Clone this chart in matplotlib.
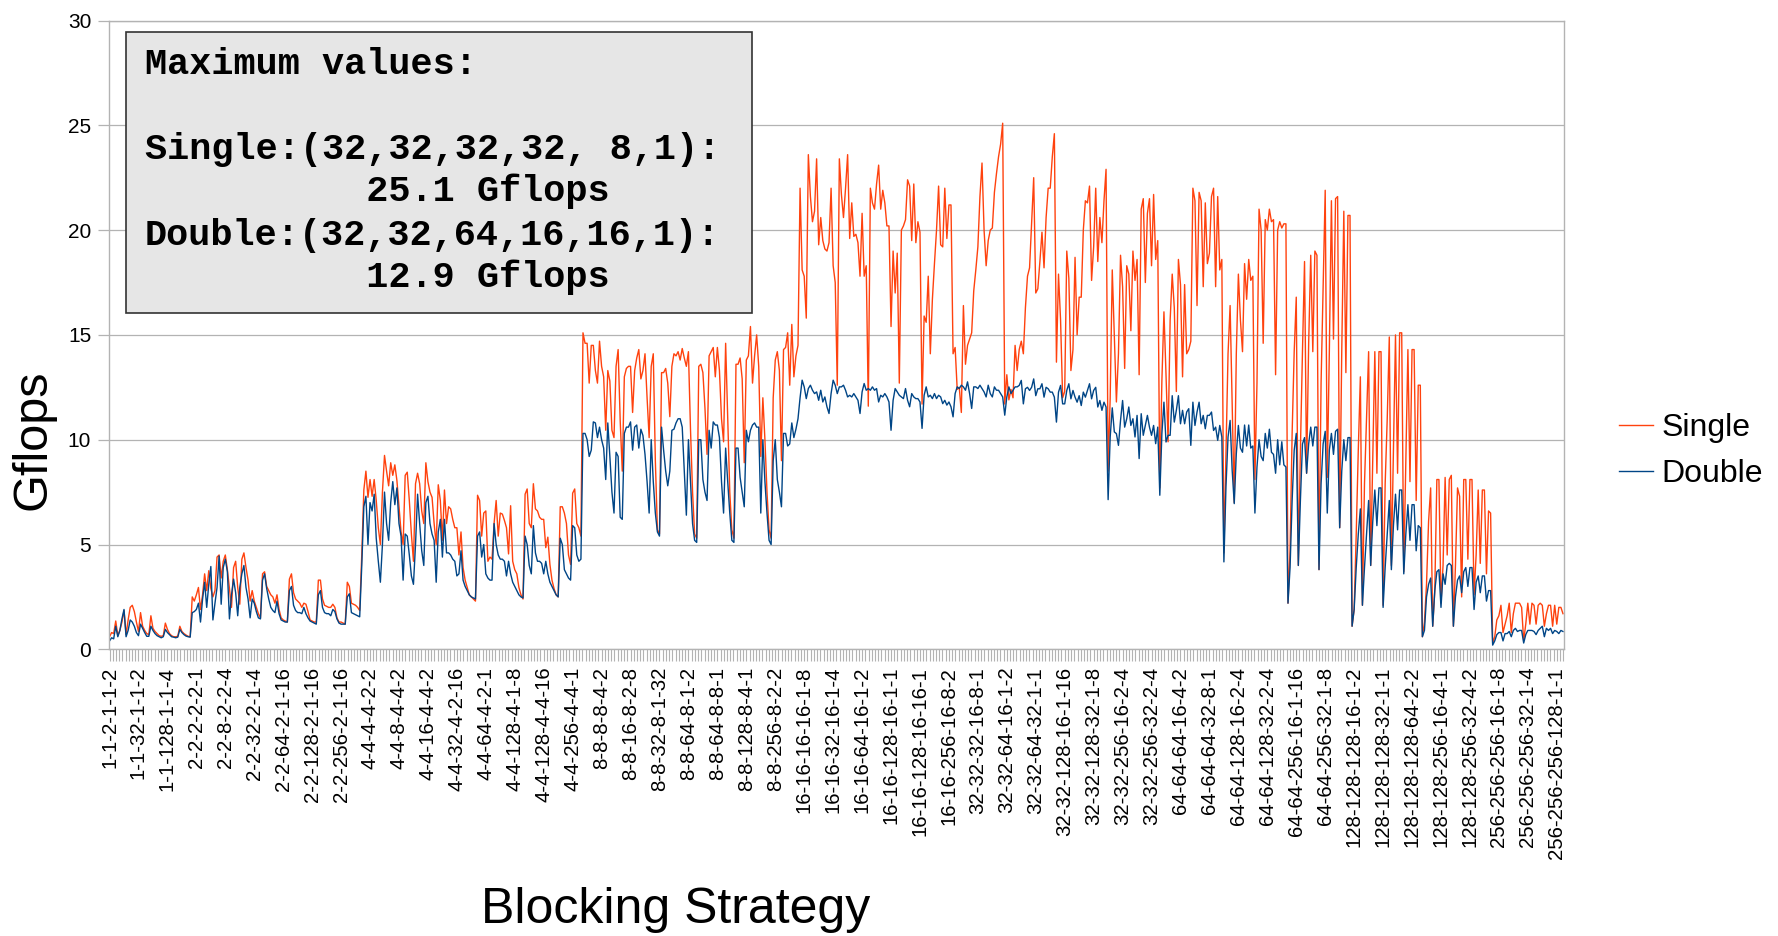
import numpy as np
import matplotlib
matplotlib.use("Agg")
import matplotlib.pyplot as plt
from matplotlib.patches import Rectangle

plt.rcParams['font.family'] = 'Liberation Sans'

# Gflops per blocking strategy (704 configurations)
single = [
    0.6, 0.8, 0.75, 1.35, 0.65, 0.9, 1.3, 1.85, 0.7, 1.4,
    2.0, 2.1, 1.8, 1.3, 0.85, 1.75, 1.1, 0.9, 0.75, 0.7,
    1.6, 1.0, 0.85, 0.75, 0.65, 0.62, 0.65, 1.25, 0.95, 0.75,
    0.65, 0.6, 0.6, 0.62, 1.1, 0.85, 0.75, 0.68, 0.62, 0.6,
    2.5, 2.3, 2.6, 2.95, 1.9, 2.6, 3.6, 2.8, 3.75, 2.9,
    2.5, 2.8, 4.4, 4.5, 3.4, 4.2, 4.5, 3.8, 2.9, 2.0,
    3.9, 4.2, 2.95, 2.15, 4.3, 4.6, 3.9, 3.3, 2.3, 2.8,
    2.3, 2.0, 1.7, 1.5, 3.6, 3.7, 3.0, 2.8, 2.6, 2.5,
    2.2, 2.6, 1.9, 1.5, 1.4, 1.35, 1.3, 3.35, 3.6, 2.7,
    2.4, 2.3, 2.2, 2.0, 2.2, 2.15, 1.8, 1.4, 1.35, 1.3,
    1.3, 3.3, 3.3, 2.4, 2.1, 2.05, 2.0, 2.0, 2.15, 2.0,
    1.5, 1.3, 1.3, 1.25, 1.2, 3.2, 3.0, 2.2, 2.15, 2.1,
    2.0, 1.85, 4.5, 7.6, 8.5, 7.25, 8.1, 7.3, 8.1, 7.1,
    5.8, 5.0, 7.5, 9.25, 8.5, 7.8, 8.9, 8.3, 8.8, 8.05,
    6.8, 5.6, 5.0, 8.3, 8.45, 7.1, 5.5, 4.2, 7.9, 8.4,
    7.9, 6.6, 6.0, 8.9, 8.0, 7.5, 7.25, 6.0, 5.0, 7.85,
    7.1, 5.2, 7.6, 6.0, 6.8, 6.7, 6.2, 5.8, 5.8, 4.5,
    5.6, 3.9, 3.3, 2.95, 2.6, 2.5, 2.4, 2.3, 7.35, 7.1,
    5.4, 6.5, 6.6, 4.2, 4.4, 4.3, 6.0, 7.1, 5.4, 6.5,
    6.45, 6.15, 5.8, 4.55, 6.85, 4.2, 3.8, 3.6, 2.95, 2.6,
    2.4, 7.4, 7.65, 6.0, 5.8, 7.9, 6.7, 6.6, 6.3, 6.2,
    6.2, 4.85, 5.35, 4.05, 3.3, 2.9, 2.6, 2.5, 6.8, 6.8,
    6.5, 6.0, 4.5, 4.05, 7.45, 7.65, 6.0, 5.8, 5.4, 15.1,
    14.6, 14.6, 12.7, 14.5, 14.5, 13.3, 12.7, 14.7, 13.5, 13.0,
    10.45, 13.3, 12.8, 10.45, 10.1, 13.5, 14.3, 10.9, 8.5, 13.0,
    13.4, 13.5, 13.5, 11.3, 13.3, 13.9, 14.3, 12.9, 13.3, 14.1,
    12.0, 10.1, 13.5, 14.1, 9.0, 5.7, 5.5, 13.2, 13.2, 13.4,
    12.7, 11.1, 13.5, 14.1, 14.0, 14.2, 13.8, 14.35, 13.9, 13.5,
    14.2, 10.5, 7.5, 5.5, 5.3, 13.5, 13.6, 13.2, 11.5, 9.3,
    14.0, 14.2, 14.4, 13.0, 14.4, 13.3, 11.0, 9.9, 14.6, 11.0,
    7.5, 5.7, 5.3, 13.6, 13.6, 13.9, 12.9, 8.9, 13.8, 14.0,
    15.4, 12.7, 14.0, 15.0, 13.5, 9.2, 12.0, 10.0, 7.5, 5.7,
    5.3, 12.0, 13.8, 14.2, 13.3, 9.0, 14.3, 14.4, 15.1, 12.6,
    15.5, 13.0, 14.0, 14.5, 22.0, 18.1, 17.8, 15.8, 23.6, 21.6,
    20.4, 20.9, 23.4, 19.3, 20.6, 19.5, 19.1, 19.0, 19.4, 22.0,
    18.3, 17.5, 12.6, 23.4, 21.7, 20.6, 22.0, 23.6, 19.6, 21.3,
    19.7, 19.8, 19.4, 17.8, 20.8, 17.8, 18.3, 11.6, 22.0, 21.3,
    21.0, 22.2, 23.1, 21.0, 21.9, 21.3, 20.2, 20.2, 15.4, 19.0,
    17.0, 18.9, 12.7, 20.0, 20.2, 20.5, 22.4, 22.1, 19.5, 22.2,
    19.4, 20.4, 19.9, 11.7, 15.9, 15.6, 17.8, 14.1, 16.7, 18.4,
    20.0, 22.1, 19.3, 19.2, 22.0, 19.6, 21.2, 21.2, 14.1, 14.4,
    12.4, 12.5, 11.3, 16.4, 13.6, 14.5, 14.8, 15.1, 17.1, 18.1,
    19.2, 21.6, 23.2, 20.0, 18.3, 19.5, 20.0, 20.1, 21.8, 22.7,
    23.5, 24.1, 25.1, 11.7, 13.1, 11.9, 12.4, 12.0, 14.5, 13.3,
    14.3, 14.7, 14.1, 16.3, 17.8, 18.2, 20.3, 22.5, 17.0, 17.2,
    18.5, 19.9, 18.2, 20.6, 22.0, 22.0, 23.5, 24.6, 13.7, 17.9,
    15.7, 12.0, 12.3, 19.0, 17.7, 13.3, 14.3, 18.7, 15.0, 16.8,
    16.8, 20.0, 21.4, 21.3, 22.1, 17.6, 19.2, 22.0, 18.5, 20.6,
    19.4, 21.4, 22.9, 8.5, 12.0, 18.1, 15.0, 11.8, 14.1, 18.8,
    17.3, 13.4, 18.3, 17.9, 15.2, 19.0, 17.6, 18.6, 13.1, 21.0,
    21.5, 17.5, 20.8, 21.5, 18.3, 21.7, 18.6, 19.5, 7.7, 12.8,
    16.1, 13.1, 9.9, 15.7, 17.9, 16.3, 12.3, 18.6, 17.4, 13.0,
    17.4, 14.1, 14.3, 14.7, 22.0, 21.4, 16.4, 21.8, 21.4, 17.3,
    21.3, 18.4, 18.9, 21.6, 22.0, 17.3, 21.6, 18.1, 18.6, 4.6,
    9.3, 14.1, 16.4, 11.7, 7.0, 14.1, 17.9, 15.7, 14.2, 18.4,
    16.7, 18.6, 17.6, 17.8, 8.1, 12.7, 21.0, 20.0, 14.6, 20.5,
    20.0, 21.0, 20.4, 20.5, 13.1, 20.0, 20.4, 20.1, 20.3, 20.3,
    2.2, 4.7, 10.3, 14.2, 16.8, 4.0, 9.5, 14.2, 18.5, 8.4,
    14.6, 18.8, 14.2, 19.0, 18.8, 3.8, 12.7, 17.4, 21.9, 8.2,
    14.2, 21.4, 14.8, 21.5, 21.6, 5.8, 14.2, 20.9, 13.2, 20.7,
    20.7, 1.1, 1.9, 5.5, 9.5, 13.0, 2.1, 7.9, 11.1, 14.2,
    4.0, 9.0, 14.2, 8.4, 14.2, 14.2, 2.1, 7.9, 11.0, 14.9,
    4.0, 9.5, 15.0, 8.4, 15.1, 15.1, 3.7, 9.0, 14.3, 8.0,
    14.3, 14.3, 7.1, 12.6, 12.6, 0.6, 1.3, 3.1, 6.1, 7.7,
    1.1, 2.8, 8.1, 8.1, 2.2, 4.0, 8.2, 4.5, 8.1, 8.3,
    1.1, 4.0, 7.7, 7.3, 2.5, 8.1, 8.1, 4.3, 8.1, 8.1,
    2.6, 4.5, 7.6, 4.1, 7.6, 7.6, 3.6, 6.6, 6.5, 0.3,
    0.6, 1.4, 1.6, 2.1, 0.8, 1.2, 1.6, 2.2, 0.8, 1.7,
    2.2, 2.2, 2.2, 2.0, 0.4, 1.2, 2.2, 1.2, 2.2, 2.1,
    1.2, 2.1, 2.2, 2.1, 1.1, 1.7, 2.1, 2.1, 1.1, 2.1,
    1.2, 2.0, 2.0, 1.7,
]

double = [
    0.4, 0.55, 0.5, 1.1, 0.6, 0.9, 1.45, 1.9, 0.6, 0.9,
    1.4, 1.3, 1.1, 0.8, 0.65, 1.2, 1.0, 0.8, 0.62, 0.62,
    1.1, 0.9, 0.75, 0.65, 0.6, 0.55, 0.6, 0.95, 0.8, 0.7,
    0.6, 0.58, 0.55, 0.58, 0.95, 0.8, 0.7, 0.63, 0.6, 0.58,
    1.75, 1.8, 1.9, 2.2, 1.3, 2.4, 3.2, 2.0, 3.1, 3.95,
    1.4, 2.2, 2.95, 4.45, 2.15, 3.9, 4.3, 3.7, 1.45, 2.6,
    3.35, 2.7, 1.6, 2.95, 3.6, 4.0, 2.95, 2.4, 1.5, 2.4,
    2.2, 1.8, 1.5, 1.45, 3.3, 3.6, 2.9, 2.4, 2.0, 1.85,
    1.75, 2.3, 1.7, 1.4, 1.35, 1.3, 1.3, 2.8, 3.0, 2.1,
    1.85, 1.75, 1.75, 1.7, 2.0, 1.7, 1.5, 1.35, 1.3, 1.25,
    1.2, 2.6, 2.8, 2.0, 1.75, 1.7, 1.7, 1.6, 1.9, 1.8,
    1.45, 1.25, 1.2, 1.2, 1.2, 2.5, 2.65, 1.75, 1.7, 1.65,
    1.6, 1.55, 4.0, 6.8, 7.3, 5.0, 7.0, 6.6, 7.4, 5.3,
    4.2, 3.2, 5.0, 7.5, 6.0, 5.2, 7.0, 8.0, 6.9, 7.7,
    6.0, 5.4, 3.3, 5.5, 5.4, 4.5, 3.5, 3.1, 5.0, 7.4,
    6.0, 4.7, 4.0, 7.0, 7.3, 6.0, 5.5, 5.2, 3.2, 5.6,
    6.2, 4.4, 6.2, 4.6, 4.6, 4.5, 4.3, 4.2, 3.5, 3.6,
    4.7, 3.3, 3.0, 2.8, 2.6, 2.5, 2.45, 2.4, 5.4, 5.6,
    4.4, 5.0, 3.6, 3.4, 3.3, 3.3, 6.0, 5.0, 4.5, 4.3,
    4.3, 4.2, 3.5, 4.2, 3.6, 3.2, 3.0, 2.8, 2.6, 2.5,
    2.45, 5.4, 5.0, 4.0, 3.6, 5.9, 4.6, 4.2, 4.2, 4.1,
    3.6, 4.2, 3.6, 3.2, 3.0, 2.8, 2.6, 2.5, 5.3, 5.0,
    3.8, 3.6, 3.4, 3.3, 5.9, 5.8, 4.5, 4.2, 4.3, 10.3,
    10.3, 10.0, 9.2, 9.5, 10.85, 10.8, 10.1, 10.6, 10.0, 9.6,
    8.1, 10.8, 9.2, 7.5, 6.5, 9.4, 9.2, 6.3, 6.2, 10.3,
    10.6, 10.6, 10.85, 9.5, 10.6, 10.7, 9.6, 10.5, 10.2, 9.3,
    8.0, 6.5, 10.0, 8.0, 6.5, 5.6, 5.4, 10.6, 9.5, 8.5,
    7.8, 8.5, 10.45, 10.5, 10.8, 11.0, 11.0, 10.6, 8.5, 6.4,
    10.0, 8.0, 6.0, 5.2, 5.1, 10.0, 10.0, 8.1, 7.5, 7.1,
    10.45, 9.6, 10.85, 10.7, 10.7, 10.1, 8.0, 6.5, 9.6, 8.0,
    6.5, 5.2, 5.1, 9.6, 9.6, 8.2, 7.5, 6.8, 10.45, 9.9,
    10.45, 10.7, 10.8, 10.6, 10.6, 6.5, 10.0, 8.0, 6.5, 5.2,
    5.0, 9.0, 10.0, 8.1, 7.5, 6.8, 10.3, 10.3, 9.7, 9.8,
    10.8, 10.1, 10.5, 11.0, 12.0, 12.84, 12.52, 11.96, 12.44, 12.6,
    12.36, 12.2, 12.28, 11.88, 12.36, 11.8, 12.04, 11.57, 11.25, 12.2,
    12.84, 12.6, 12.2, 12.52, 12.52, 12.6, 12.36, 12.04, 12.12, 12.04,
    12.2, 12.04, 11.88, 11.25, 12.28, 12.68, 12.36, 12.44, 12.36, 12.52,
    12.36, 12.44, 11.8, 12.12, 12.04, 12.2, 12.04, 11.8, 10.45, 11.88,
    12.44, 12.28, 12.12, 12.04, 11.96, 12.44, 11.88, 11.57, 12.2, 12.04,
    11.96, 11.96, 11.8, 10.54, 12.12, 12.52, 12.04, 12.12, 11.96, 12.2,
    11.96, 12.12, 12.04, 11.72, 11.88, 11.65, 11.8, 11.57, 11.09, 12.2,
    12.52, 12.44, 12.6, 12.52, 12.36, 12.76, 12.2, 11.49, 12.52, 12.52,
    12.44, 12.6, 12.44, 12.28, 12.04, 12.6, 12.2, 12.04, 12.52, 12.36,
    12.36, 12.2, 12.04, 11.17, 12.04, 12.52, 12.2, 12.36, 12.52, 12.52,
    12.59, 12.83, 11.71, 12.43, 12.5, 12.35, 12.5, 12.9, 12.1, 12.43,
    12.43, 12.67, 12.03, 12.5, 12.43, 12.27, 12.27, 12.03, 10.84, 12.27,
    12.59, 11.71, 11.71, 12.35, 12.67, 11.95, 12.35, 12.03, 11.79, 12.1,
    11.63, 12.27, 12.03, 12.35, 12.67, 11.95, 12.35, 12.5, 11.56, 11.87,
    11.4, 11.79, 11.56, 7.14, 10.13, 11.52, 10.37, 10.29, 9.73, 10.92,
    11.87, 10.6, 11.0, 11.56, 10.68, 11.0, 10.13, 11.16, 9.1, 11.24,
    10.21, 10.68, 11.16, 10.6, 10.21, 10.68, 9.81, 10.6, 7.35, 10.29,
    11.79, 9.89, 10.21, 10.21, 12.1, 10.84, 11.4, 12.1, 10.76, 11.4,
    10.76, 11.32, 11.48, 9.73, 11.79, 10.68, 11.32, 11.79, 10.76, 11.16,
    10.52, 11.16, 11.16, 11.32, 10.44, 10.6, 9.97, 10.68, 10.13, 4.17,
    7.75, 10.13, 10.92, 8.54, 6.95, 9.33, 10.68, 9.6, 9.4, 10.7,
    9.7, 10.7, 9.6, 9.7, 6.5, 8.7, 10.0, 9.2, 9.0, 10.3,
    9.6, 10.5, 9.4, 9.3, 8.4, 10.0, 8.8, 9.9, 8.8, 8.7,
    2.2, 3.9, 7.1, 9.5, 10.3, 4.0, 7.1, 9.8, 10.1, 8.4,
    9.8, 10.6, 9.7, 10.6, 10.6, 3.8, 7.9, 9.8, 10.4, 6.5,
    9.5, 10.3, 9.3, 10.4, 10.5, 5.8, 8.5, 10.0, 9.0, 10.1,
    10.1, 1.1, 1.9, 3.9, 5.5, 6.7, 2.1, 3.9, 5.5, 7.1,
    4.0, 6.1, 7.6, 5.9, 7.7, 7.7, 2.0, 3.9, 5.5, 7.1,
    3.8, 5.9, 7.4, 5.7, 7.6, 7.6, 3.6, 5.5, 6.9, 5.2,
    6.9, 6.9, 4.7, 5.9, 5.8, 0.6, 0.9, 2.5, 3.1, 3.4,
    1.1, 2.8, 3.7, 3.8, 2.0, 3.6, 3.1, 4.0, 4.1, 4.0,
    1.1, 2.5, 3.3, 3.5, 2.7, 3.7, 3.9, 3.0, 3.9, 3.9,
    1.9, 3.2, 3.5, 2.7, 3.5, 3.5, 2.3, 2.8, 2.8, 0.2,
    0.4, 0.7, 0.8, 0.8, 0.4, 0.75, 0.75, 0.85, 0.6, 0.9,
    1.0, 0.85, 0.9, 0.9, 0.3, 0.7, 0.9, 0.9, 0.9, 0.85,
    0.7, 0.9, 1.0, 1.1, 0.6, 1.0, 0.9, 1.0, 0.75, 0.9,
    0.85, 0.75, 0.9, 0.85,
]

# every 14th strategy gets a label on the axis
tick_labels = [
    "1-1-2-1-1-2", "1-1-32-1-1-2", "1-1-128-1-1-4", "2-2-2-2-2-1",
    "2-2-8-2-2-4", "2-2-32-2-1-4", "2-2-64-2-1-16", "2-2-128-2-1-16",
    "2-2-256-2-1-16", "4-4-4-4-2-2", "4-4-8-4-4-2", "4-4-16-4-4-2",
    "4-4-32-4-2-16", "4-4-64-4-2-1", "4-4-128-4-1-8", "4-4-128-4-4-16",
    "4-4-256-4-4-1", "8-8-8-8-4-2", "8-8-16-8-2-8", "8-8-32-8-1-32",
    "8-8-64-8-1-2", "8-8-64-8-8-1", "8-8-128-8-4-1", "8-8-256-8-2-2",
    "16-16-16-16-1-8", "16-16-32-16-1-4", "16-16-64-16-1-2", "16-16-128-16-1-1",
    "16-16-128-16-16-1", "16-16-256-16-8-2", "32-32-32-16-8-1", "32-32-64-16-1-2",
    "32-32-64-32-1-1", "32-32-128-16-1-16", "32-32-128-32-1-8", "32-32-256-16-2-4",
    "32-32-256-32-2-4", "64-64-64-16-4-2", "64-64-64-32-8-1", "64-64-128-16-2-4",
    "64-64-128-32-2-4", "64-64-256-16-1-16", "64-64-256-32-1-8", "128-128-128-16-1-2",
    "128-128-128-32-1-1", "128-128-128-64-2-2", "128-128-256-16-4-1", "128-128-256-32-4-2",
    "256-256-256-16-1-8", "256-256-256-32-1-4", "256-256-256-128-1-1",
]
label_step = 14

box_lines = [
    "Maximum values:",
    "",
    "Single:(32,32,32,32, 8,1):",
    "          25.1 Gflops",
    "Double:(32,32,64,16,16,1):",
    "          12.9 Gflops",
]

W, H = 1778, 936
fig = plt.figure(figsize=(W / 100, H / 100), dpi=100)
ax = fig.add_axes([108.5 / W, 1 - 649.3 / H, (1564 - 108.5) / W, (649.3 - 20.5) / H])

x = np.arange(len(single))
grey = "#b3b3b3"
l1, = ax.plot(x, single, color="#ff420e", lw=1.0, label="Single")
l2, = ax.plot(np.arange(len(double)), double, color="#004586", lw=1.0, label="Double")

ax.set_xlim(-0.5, len(single) - 0.5)
ax.set_ylim(0, 30)
ax.set_yticks(range(0, 31, 5))
ax.yaxis.grid(True, color=grey, lw=0.9)
ax.set_axisbelow(True)

ax.set_xticks(np.arange(len(tick_labels)) * label_step)
ax.set_xticklabels(tick_labels, rotation=90, va="top", ha="center")
ax.set_xticks(np.arange(0, len(single), label_step / 9), minor=True)

for s in ax.spines.values():
    s.set_color(grey)
    s.set_linewidth(1.0)
ax.tick_params(axis="x", which="both", direction="out", length=8.6, width=0.8,
               color=grey, labelsize=14.7, pad=4)
ax.tick_params(axis="y", direction="out", length=8, width=0.9, color=grey,
               labelsize=15, pad=4.5)

fig.text(33 / W, 1 - 440 / H, "Gflops", rotation=90, fontsize=35, ha="center", va="center")
fig.text(676 / W, 1 - 910 / H, "Blocking Strategy", fontsize=36, ha="center", va="center")

ax.legend(handles=[l1, l2], loc="center left", bbox_to_anchor=(1619 / W, 1 - 451 / H),
          bbox_transform=fig.transFigure, frameon=False, fontsize=23, borderpad=0,
          borderaxespad=0, handlelength=1.07, handletextpad=0.25, labelspacing=0.5)

box = Rectangle((126 / W, 1 - 313 / H), (752 - 126) / W, (313 - 32) / H,
                transform=fig.transFigure, facecolor="#e6e6e6", edgecolor="#333333",
                lw=1.2, zorder=5)
fig.add_artist(box)
line_y = [64.5, 107, 149.5, 191.5, 235.7, 277.6]
for txt, yy in zip(box_lines, line_y):
    if txt:
        fig.text(145 / W, 1 - yy / H, txt, fontsize=26.6, family="Liberation Mono",
                 weight="bold", ha="left", va="center", zorder=6)

fig.savefig("out.png", dpi=100)
